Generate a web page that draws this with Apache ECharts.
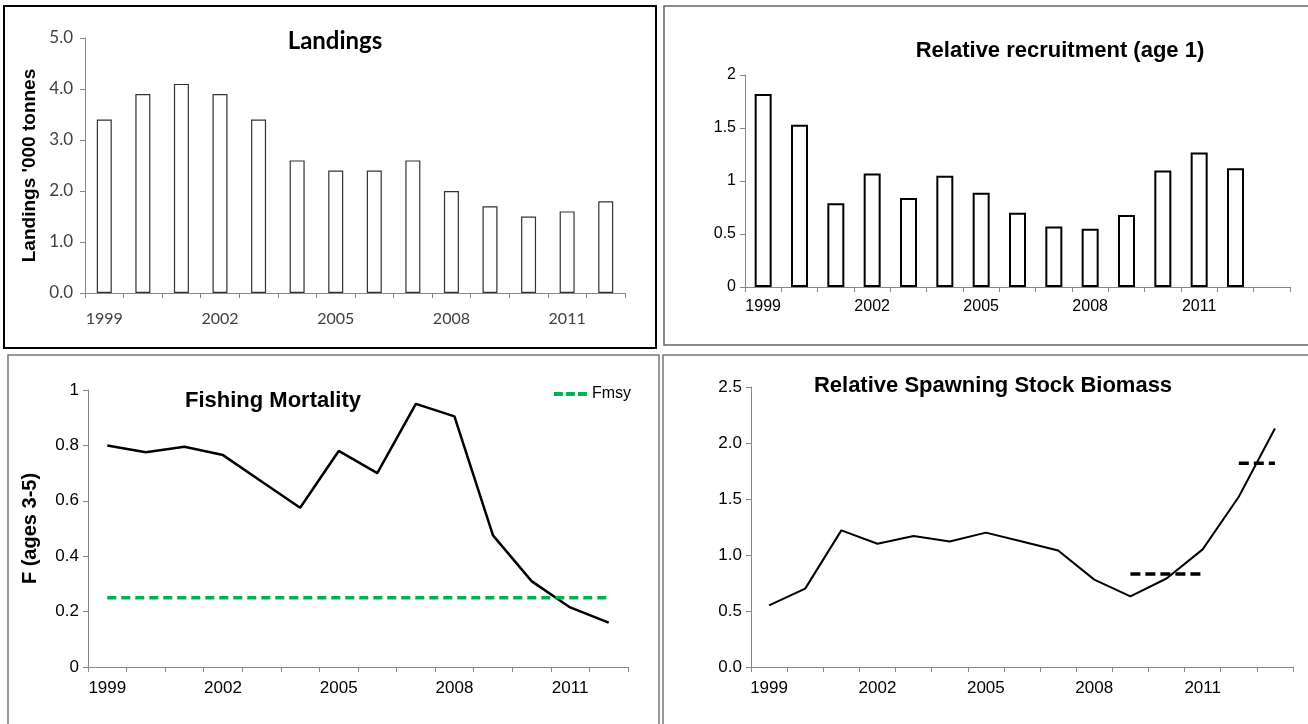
<!DOCTYPE html>
<html>
<head>
<meta charset="utf-8">
<script src="https://cdn.jsdelivr.net/npm/echarts@6/dist/echarts.min.js"></script>
<style>
  html, body { margin: 0; padding: 0; background: #fff; }
  #chart { width: 1308px; height: 724px; }
</style>
</head>
<body>
<div id="chart"></div>
<script>
// data
var years14 = ['1999','2000','2001','2002','2003','2004','2005','2006','2007','2008','2009','2010','2011','2012'];
var years15 = years14.concat(['2013']);

var landings = [3.4, 3.9, 4.1, 3.9, 3.4, 2.6, 2.4, 2.4, 2.6, 2.0, 1.7, 1.5, 1.6, 1.8];
var recruitment = [1.82, 1.53, 0.79, 1.07, 0.84, 1.05, 0.89, 0.70, 0.57, 0.55, 0.68, 1.10, 1.27, 1.12, null];
var fishingF = [0.80, 0.775, 0.795, 0.765, 0.67, 0.575, 0.78, 0.70, 0.95, 0.905, 0.475, 0.31, 0.215, 0.16];
var fmsy = 0.25;
var ssb = [0.55, 0.70, 1.22, 1.10, 1.17, 1.12, 1.20, 1.12, 1.04, 0.78, 0.63, 0.79, 1.05, 1.52, 2.13];
var ssbRef1 = {from: '2009', to: '2011', value: 0.83};
var ssbRef2 = {from: '2012', to: '2013', value: 1.82};

var chart = echarts.init(document.getElementById('chart'));

var axisGrey = '#878787';
var calibri = 'Lato';
var arial = 'Liberation Sans';

function catAxis(idx, cats, font, color, size, margin) {
  return {
    type: 'category', gridIndex: idx, data: cats, boundaryGap: true,
    axisLine: {lineStyle: {color: axisGrey, width: 1}},
    axisTick: {show: true, interval: 0, length: 5, lineStyle: {color: axisGrey}},
    axisLabel: {interval: 2, margin: margin, fontFamily: font, fontSize: size, color: color}
  };
}

function valAxis(idx, max, step, font, color, size, fmt, margin) {
  return {
    type: 'value', gridIndex: idx, min: 0, max: max, interval: step,
    splitLine: {show: false},
    axisLine: {show: true, lineStyle: {color: axisGrey, width: 1}},
    axisTick: {show: true, length: 5, lineStyle: {color: axisGrey}},
    axisLabel: {margin: margin, fontFamily: font, fontSize: size, color: color, formatter: fmt}
  };
}

function oneDec(v) { return v.toFixed(1); }

var yLand = valAxis(0, 5, 1, calibri, '#404040', 17, oneDec, 12);
yLand.name = "Landings '000 tonnes";
yLand.nameLocation = 'middle';
yLand.nameGap = 46;
yLand.nameTextStyle = {fontFamily: arial, fontWeight: 'bold', fontSize: 19, color: '#000'};

var yF = valAxis(2, 1, 0.2, arial, '#000', 17, null, 9);
yF.name = 'F (ages 3-5)';
yF.nameLocation = 'middle';
yF.nameGap = 48;
yF.nameTextStyle = {fontFamily: arial, fontWeight: 'bold', fontSize: 20, color: '#000'};

var titleBase = {fontFamily: arial, fontWeight: 'bold', fontSize: 22, color: '#000'};

var option = {
  animation: false,
  backgroundColor: '#fff',
  title: [
    {text: 'Landings', left: 330, top: 24, textAlign: 'center', textStyle: Object.assign({}, titleBase, {fontFamily: calibri, fontSize: 24})},
    {text: 'Relative recruitment (age 1)', left: 1055, top: 35, textAlign: 'center', textStyle: titleBase},
    {text: 'Fishing Mortality', left: 268, top: 385, textAlign: 'center', textStyle: titleBase},
    {text: 'Relative Spawning Stock Biomass', left: 988, top: 370, textAlign: 'center', textStyle: titleBase}
  ],
  legend: {
    data: [{name: 'Fmsy', icon: 'path://M0,0h9v4H0z M12,0h9v4h-9z M24,0h9v4h-9z'}],
    right: 672, top: 381, itemWidth: 33, itemHeight: 4, itemGap: 6,
    textStyle: {fontFamily: arial, fontSize: 16, color: '#000'}
  },
  grid: [
    {left: 85, top: 38, width: 540, height: 255},
    {left: 745, top: 75, width: 545, height: 212},
    {left: 88, top: 390, width: 540, height: 277},
    {left: 751, top: 387, width: 542, height: 280}
  ],
  xAxis: [
    catAxis(0, years14, calibri, '#404040', 16, 18),
    catAxis(1, years15, arial, '#000', 16, 12),
    catAxis(2, years14, arial, '#000', 17, 13),
    catAxis(3, years15, arial, '#000', 17, 13)
  ],
  yAxis: [
    yLand,
    valAxis(1, 2, 0.5, arial, '#000', 16, null, 9),
    yF,
    valAxis(3, 2.5, 0.5, arial, '#000', 17, oneDec, 9)
  ],
  graphic: [
    {type: 'rect', shape: {x: 4, y: 6, width: 652, height: 342}, style: {fill: 'none', stroke: '#000', lineWidth: 2}, silent: true},
    {type: 'rect', shape: {x: 664, y: 6, width: 650, height: 339}, style: {fill: 'none', stroke: '#666', lineWidth: 1.5}, silent: true},
    {type: 'rect', shape: {x: 8, y: 355, width: 651, height: 380}, style: {fill: 'none', stroke: '#777', lineWidth: 1.5}, silent: true},
    {type: 'rect', shape: {x: 663, y: 355, width: 650, height: 380}, style: {fill: 'none', stroke: '#777', lineWidth: 1.5}, silent: true}
  ],
  series: [
    {
      name: 'Landings', type: 'bar', xAxisIndex: 0, yAxisIndex: 0, data: landings, barWidth: 15,
      itemStyle: {color: '#fff', borderColor: '#333', borderWidth: 1.2}
    },
    {
      name: 'Recruitment', type: 'bar', xAxisIndex: 1, yAxisIndex: 1, data: recruitment, barWidth: 17,
      itemStyle: {color: '#fff', borderColor: '#000', borderWidth: 2}
    },
    {
      name: 'F', type: 'line', xAxisIndex: 2, yAxisIndex: 2, data: fishingF, symbol: 'none',
      lineStyle: {color: '#000', width: 2.5}
    },
    {
      name: 'Fmsy', type: 'line', xAxisIndex: 2, yAxisIndex: 2, symbol: 'none',
      data: [[years14[0], fmsy], [years14[years14.length - 1], fmsy]],
      itemStyle: {color: '#00b050'},
      lineStyle: {color: '#00b050', width: 3.5, type: [9, 5]}
    },
    {
      name: 'SSB', type: 'line', xAxisIndex: 3, yAxisIndex: 3, data: ssb, symbol: 'none',
      lineStyle: {color: '#000', width: 2}
    },
    {
      name: 'SSB ref 1', type: 'line', xAxisIndex: 3, yAxisIndex: 3, symbol: 'none',
      data: [[ssbRef1.from, ssbRef1.value], [ssbRef1.to, ssbRef1.value]],
      lineStyle: {color: '#000', width: 3.5, type: [10, 5]}
    },
    {
      name: 'SSB ref 2', type: 'line', xAxisIndex: 3, yAxisIndex: 3, symbol: 'none',
      data: [[ssbRef2.from, ssbRef2.value], [ssbRef2.to, ssbRef2.value]],
      lineStyle: {color: '#000', width: 3.5, type: [10, 5]}
    }
  ]
};

chart.setOption(option);
</script>
</body>
</html>
